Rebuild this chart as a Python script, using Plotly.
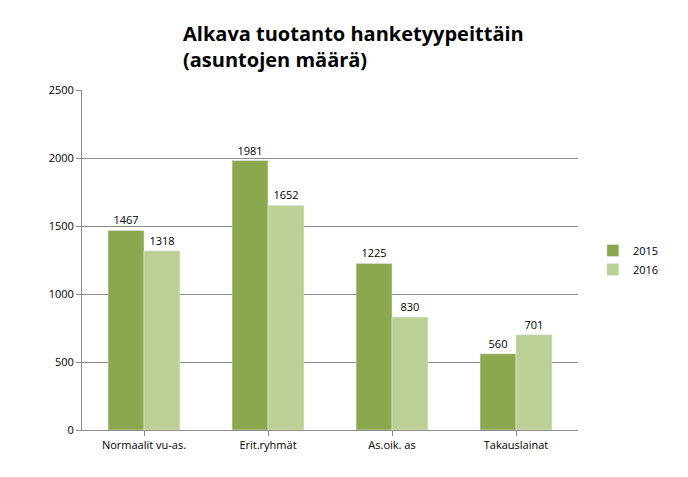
import plotly.graph_objects as go

categories = ["Normaalit vu-as.", "Erit.ryhmät", "As.oik. as", "Takauslainat"]
v2015 = [1467, 1981, 1225, 560]
v2016 = [1318, 1652, 830, 701]

fig = go.Figure()
fig.add_bar(name="2015", x=categories, y=v2015, marker_color="#8BA84E",
            text=v2015, textposition="outside", textfont=dict(size=11, color="#000"))
fig.add_bar(name="2016", x=categories, y=v2016, marker_color="#BCD096",
            text=v2016, textposition="outside", textfont=dict(size=11, color="#000"))
fig.update_layout(
    width=688, height=477, barmode="group", bargap=0.42, bargroupgap=0,
    plot_bgcolor="white", paper_bgcolor="white",
    font=dict(family="Open Sans, Liberation Sans, sans-serif", size=11, color="#000"),
    margin=dict(l=74, r=118, t=82, b=55),
    title=dict(text="<b>Alkava tuotanto hanketyypeittäin<br>(asuntojen määrä)</b>",
               x=175/688, xanchor="left", y=0.93, yanchor="top",
               font=dict(size=20, color="#000")),
    legend=dict(x=1.03, y=0.5, yanchor="middle", font=dict(size=11),
                itemwidth=30, tracegroupgap=6),
    yaxis=dict(range=[0, 2500], dtick=500, showgrid=True, gridcolor="#8c8c8c",
               showline=True, linecolor="#8c8c8c", ticks="outside", tickcolor="#8c8c8c",
               ticklen=5, zeroline=False),
    xaxis=dict(showline=True, linecolor="#8c8c8c", ticks="outside", tickcolor="#8c8c8c"),
)
fig.update_traces(cliponaxis=False)
fig.write_html("out.html")
